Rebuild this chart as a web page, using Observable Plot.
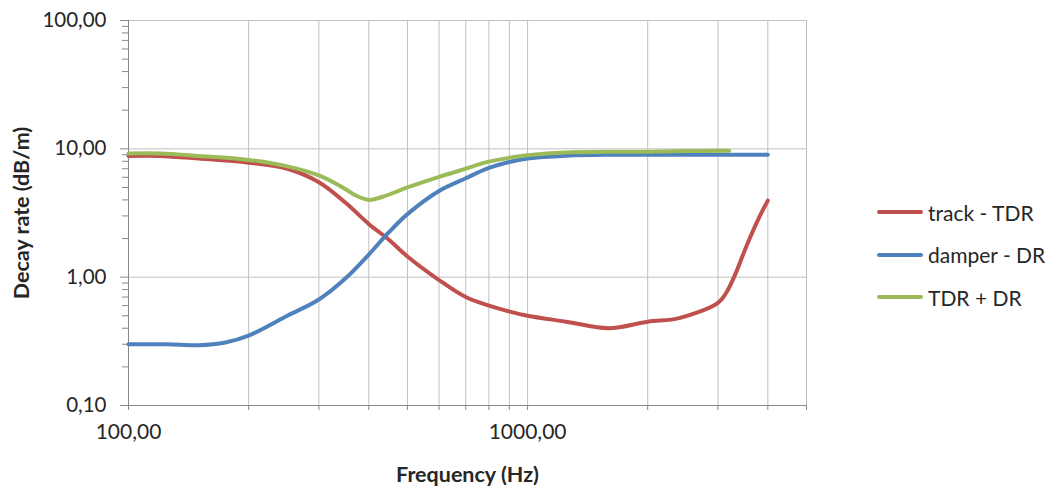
<!DOCTYPE html>
<html><head><meta charset="utf-8">
<script src="https://cdn.jsdelivr.net/npm/d3@7"></script>
<script src="https://cdn.jsdelivr.net/npm/@observablehq/plot@0.6"></script>
<style>
body{margin:0;background:#fff;font-family:Lato, "Open Sans", sans-serif;}
#wrap{position:relative;width:1051px;height:487px;}
#legend{position:absolute;left:877px;top:191px;font-size:21px;color:#262626;}
.item{display:flex;align-items:center;height:42.5px;}
.sw{width:46px;height:4px;margin-right:5px;border-radius:2px;}
</style></head><body>
<div id="wrap"><div id="legend"></div></div>
<script>
// Series: track - TDR
const trackFreq = [100,120,150,200,250,300,350,400,450,500,600,700,800,900,1000,1250,1600,2000,2400,3000,3150,3300,3550,3800,4000];
const trackVal  = [8.8,8.8,8.4,7.8,7.0,5.5,3.8,2.6,1.95,1.45,0.95,0.7,0.6,0.54,0.5,0.45,0.4,0.45,0.48,0.63,0.76,1.02,1.8,2.9,3.95];
// Series: damper - DR
const damperFreq = [100,125,150,175,200,250,300,350,400,450,500,600,700,800,900,1000,1250,1600,2000,3000,4000];
const damperVal  = [0.30,0.30,0.295,0.31,0.35,0.5,0.67,0.98,1.5,2.25,3.1,4.7,5.9,7.1,7.9,8.4,8.85,9.0,9.0,9.0,9.0];
// Series: TDR + DR
const sumFreq = [100,120,150,200,250,300,350,370,400,440,470,500,600,700,800,1000,1250,1600,2000,2500,3200];
const sumVal  = [9.2,9.2,8.8,8.2,7.3,6.2,4.85,4.35,4.0,4.3,4.65,5.0,6.05,7.0,7.95,8.9,9.35,9.5,9.5,9.6,9.65];

const seriesNames = ["track - TDR","damper - DR","TDR + DR"];
const seriesColors = ["#C0504D","#4F81BD","#9BBB59"];

const xTicks = [100,200,300,400,500,600,700,800,900,1000,2000,3000,4000,5000];
const xLabelTicks = [100,1000];
const yMajor = [0.1,1,10,100];
const yMinor = [0.2,0.3,0.4,0.5,0.6,0.7,0.8,0.9,2,3,4,5,6,7,8,9,20,30,40,50,60,70,80,90];

const fmt = d => d3.format(".2f")(d).replace(".", ",");

const toRows = (f, v, name) => f.map((x, i) => ({f: x, v: v[i], s: name}));
const track = toRows(trackFreq, trackVal, seriesNames[0]);
const damper = toRows(damperFreq, damperVal, seriesNames[1]);
const sum = toRows(sumFreq, sumVal, seriesNames[2]);

const gridColor = "#c0c0c0";
const axisColor = "#888888";
const textColor = "#262626";

const chart = Plot.plot({
  width: 1051,
  height: 487,
  marginTop: 20,
  marginBottom: 82,
  marginLeft: 128,
  marginRight: 245,
  style: {fontFamily: "Lato, 'Open Sans', sans-serif", color: textColor, background: "#fff"},
  x: {type: "log", domain: [100, 5000]},
  y: {type: "log", domain: [0.1, 100]},
  marks: [
    Plot.gridX(xTicks.filter(d => d !== 100), {stroke: gridColor, strokeOpacity: 1, strokeWidth: 1}),
    Plot.gridY([1, 10, 100], {stroke: gridColor, strokeOpacity: 1, strokeWidth: 1}),
    Plot.axisY(yMajor, {tickSize: 8, tickPadding: 14, tickFormat: fmt, fontSize: 20.5, stroke: axisColor, fill: textColor,
      label: "Decay rate (dB/m)", labelAnchor: "center", labelArrow: "none", labelOffset: 115}),
    Plot.axisY(yMinor, {tickSize: 6, tickFormat: () => "", stroke: axisColor, label: null}),
    Plot.axisX(xTicks, {tickSize: 5, tickPadding: 14, fontSize: 21, stroke: axisColor, fill: textColor,
      tickFormat: d => xLabelTicks.includes(d) ? fmt(d) : "",
      label: "Frequency (Hz)", labelAnchor: "center", labelArrow: "none", labelOffset: 76}),
    Plot.ruleX([100], {stroke: axisColor, strokeWidth: 1}),
    Plot.ruleY([0.1], {stroke: axisColor, strokeWidth: 1}),
    Plot.line(track, {x: "f", y: "v", stroke: seriesColors[0], strokeWidth: 4, curve: "catmull-rom"}),
    Plot.line(damper, {x: "f", y: "v", stroke: seriesColors[1], strokeWidth: 4, curve: "catmull-rom"}),
    Plot.line(sum, {x: "f", y: "v", stroke: seriesColors[2], strokeWidth: 4, curve: "catmull-rom"})
  ]
});

// bold axis labels
d3.select(chart).selectAll("g[aria-label='x-axis label'] text, g[aria-label='y-axis label'] text")
  .attr("font-weight", "bold").attr("font-size", 21.5);

const wrap = document.getElementById("wrap");
wrap.insertBefore(chart, wrap.firstChild);

const legend = d3.select("#legend");
seriesNames.forEach((n, i) => {
  const it = legend.append("div").attr("class", "item");
  it.append("div").attr("class", "sw").style("background", seriesColors[i]);
  it.append("span").text(n);
});
</script>
</body></html>
